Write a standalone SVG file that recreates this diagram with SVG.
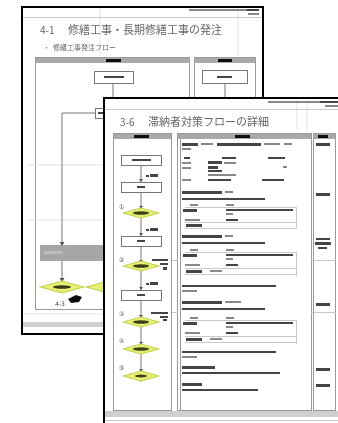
<svg xmlns="http://www.w3.org/2000/svg" width="338" height="423" viewBox="0 0 338 423">
<style>
.page{fill:#fff;stroke:#000;stroke-width:2}
.lane{fill:none;stroke:#999;stroke-width:1}
.hdr{fill:#a9a9a9}
.lbl{fill:#111}
.b{fill:#444}
.m{fill:#888}
.fl{fill:none;stroke:#777;stroke-width:1}
.box{fill:#fff;stroke:#777;stroke-width:1}
.faint{stroke:#e2e2e2;stroke-width:1;fill:none}
.sep{stroke:#c8c8c8;stroke-width:1;fill:none}
.dia{fill:#e6ef78;stroke:#c2d24a;stroke-width:1}
.dc{fill:#3c3c18}
.t{font-family:"Noto Sans CJK JP","Noto Sans",sans-serif;fill:#666}
.n{font-family:"DejaVu Sans",sans-serif;fill:#444;font-size:6px}
.soft{filter:url(#blur)}
</style>
<defs>
<polygon id="dm" points="-18,0 0,-5 18,0 0,5"/>
<filter id="blur" x="-5%" y="-5%" width="110%" height="110%"><feGaussianBlur stdDeviation="0.4"/></filter>
</defs>

<g id="back-page">
<rect class="page" x="22" y="7" width="241" height="327"/>
<g class="soft">
<line class="faint" x1="100" y1="8" x2="100" y2="56"/>
<line class="faint" x1="238" y1="8" x2="238" y2="56"/>
<line class="sep" x1="23" y1="17.5" x2="262" y2="17.5"/>
<rect class="m" x="189" y="9" width="58" height="2"/>
<rect class="b" x="247" y="9" width="12" height="2"/>
<rect class="m" x="248" y="13" width="11" height="2"/>
<text class="t" x="40" y="34" font-size="10">4-1</text>
<text class="t" x="68" y="34" font-size="11">修繕工事・長期修繕工事の発注</text>
<text class="t" x="43" y="50" font-size="7">・</text>
<text class="t" x="53" y="50" font-size="7">修繕工事発注フロー</text>
<rect class="lane" x="35.5" y="57.5" width="154" height="252"/>
<rect class="hdr" x="36" y="58" width="153" height="5"/>
<rect class="lbl" x="106" y="59" width="15" height="3"/>
<rect class="lane" x="194.5" y="57.5" width="61" height="60"/>
<rect class="hdr" x="195" y="58" width="60" height="5"/>
<rect class="lbl" x="218" y="59" width="14" height="3"/>
<line class="faint" x1="27" y1="165" x2="103" y2="165"/>
<line class="faint" x1="27" y1="220" x2="103" y2="220"/>
<rect class="box" x="94.5" y="71.5" width="39" height="12"/>
<rect class="b" x="104" y="76" width="20" height="2"/>
<rect class="box" x="202.5" y="70.5" width="45" height="13"/>
<rect class="b" x="217" y="76" width="15" height="2"/>
<line class="fl" x1="113" y1="84" x2="113" y2="100"/>
<line class="fl" x1="225" y1="84" x2="225" y2="100"/>
<polyline class="fl" points="62,245 62,113 97,113"/>
<rect class="box" x="95.5" y="108.5" width="12" height="10"/>
<rect class="b" x="98" y="112" width="5" height="2"/>
<rect x="40" y="245" width="64" height="16" fill="#a6a6a6"/>
<rect x="44" y="251" width="18" height="3" fill="#bdbdbd"/>
<line class="fl" x1="62" y1="261" x2="62" y2="281"/>
<polygon points="59.5,278 64.5,278 62,282" fill="#555"/>
<polygon points="59.5,242 64.5,242 62,246" fill="#555"/>
<g transform="translate(62,287) scale(1.2,1.2)"><use href="#dm" class="dia"/></g>
<ellipse class="dc" cx="62" cy="287" rx="9" ry="1.8"/>
<g transform="translate(108,287) scale(1.2,1.2)"><use href="#dm" class="dia"/></g>
<text class="n" x="55" y="306" font-size="6">4-3</text>
<polygon points="68,299 76,295 82,297 79,302 71,303" fill="#111"/>
<line class="faint" x1="23" y1="314" x2="103" y2="314"/>
<rect x="23" y="322" width="82" height="5" fill="#d0d0d0"/>
</g>
</g>

<g id="front-page">
<rect class="page" x="104" y="98" width="240" height="330"/>
<g class="soft">
<line class="faint" x1="297" y1="99" x2="297" y2="130"/>
<line class="faint" x1="307" y1="99" x2="307" y2="130"/>
<rect class="m" x="268" y="101" width="52" height="2"/>
<rect class="b" x="320" y="101" width="18" height="2"/>
<rect class="m" x="325" y="105" width="13" height="2"/>
<line class="sep" x1="105" y1="109.5" x2="338" y2="109.5"/>
<text class="t" x="120" y="126" font-size="10">3-6</text>
<text class="t" x="148" y="126" font-size="11">滞納者対策フローの詳細</text>

<rect class="lane" x="113.5" y="133.5" width="58" height="277"/>
<rect class="hdr" x="114" y="134" width="57" height="5"/>
<rect class="lbl" x="134" y="135" width="15" height="3"/>
<rect class="lane" x="177.5" y="133.5" width="134" height="277"/>
<line class="lane" x1="180.5" y1="139" x2="180.5" y2="410"/>
<rect class="hdr" x="178" y="134" width="133" height="5"/>
<rect class="lbl" x="235" y="135" width="15" height="3"/>
<rect class="lane" x="313.5" y="133.5" width="22" height="277"/>
<rect class="hdr" x="314" y="134" width="21" height="5"/>
<rect class="lbl" x="318" y="135" width="10" height="3"/>
<line class="sep" x1="172" y1="260.5" x2="178" y2="260.5"/>
<line class="sep" x1="311" y1="260.5" x2="336" y2="260.5"/>
<line class="sep" x1="172" y1="312.5" x2="178" y2="312.5"/>
<line class="sep" x1="311" y1="312.5" x2="336" y2="312.5"/>
<rect x="105" y="411" width="233" height="6" fill="#cfcfcf"/>
<line class="sep" x1="105" y1="420.5" x2="338" y2="420.5"/>

<line class="fl" x1="141" y1="165" x2="141" y2="382"/>
<rect class="box" x="121.5" y="155.5" width="40" height="10"/>
<rect class="b" x="132" y="159" width="19" height="2"/>
<rect class="box" x="121.5" y="182.5" width="40" height="10"/>
<rect class="b" x="137" y="186" width="8" height="2"/>
<rect class="box" x="121.5" y="236.5" width="40" height="10"/>
<rect class="b" x="137" y="240" width="8" height="2"/>
<rect class="box" x="121.5" y="290.5" width="40" height="10"/>
<rect class="b" x="137" y="294" width="8" height="2"/>
<g fill="#555">
<polygon points="139,179 143,179 141,182"/>
<polygon points="139,206 143,206 141,209"/>
<polygon points="139,233 143,233 141,236"/>
<polygon points="139,260 143,260 141,263"/>
<polygon points="139,287 143,287 141,290"/>
<polygon points="139,315 143,315 141,318"/>
<polygon points="139,342 143,342 141,345"/>
<polygon points="139,369 143,369 141,372"/>
</g>
<rect class="b" x="146" y="175" width="3" height="2"/>
<rect class="b" x="150" y="174" width="8" height="3"/>
<rect class="b" x="146" y="229" width="3" height="2"/>
<rect class="b" x="150" y="228" width="8" height="3"/>
<rect class="b" x="146" y="283" width="3" height="2"/>
<rect class="b" x="150" y="282" width="8" height="3"/>
<text class="n" x="119" y="209">①</text>
<text class="n" x="119" y="262">②</text>
<text class="n" x="119" y="316">③</text>
<text class="n" x="119" y="343">④</text>
<text class="n" x="119" y="370">⑤</text>
<g transform="translate(141,213)"><use href="#dm" class="dia"/></g>
<ellipse class="dc" cx="141" cy="213" rx="8" ry="1.8"/>
<g transform="translate(141,266)"><use href="#dm" class="dia"/></g>
<ellipse class="dc" cx="141" cy="266" rx="8" ry="1.8"/>
<rect class="b" x="152" y="259" width="16" height="2"/>
<rect class="b" x="160" y="263" width="8" height="2"/>
<rect class="b" x="163" y="267" width="4" height="3"/>
<g transform="translate(141,322)"><use href="#dm" class="dia"/></g>
<ellipse class="dc" cx="141" cy="322" rx="8" ry="1.8"/>
<rect class="b" x="151" y="312" width="17" height="2"/>
<rect class="b" x="160" y="316" width="8" height="2"/>
<rect class="b" x="163" y="319" width="4" height="2"/>
<g transform="translate(141,349)"><use href="#dm" class="dia"/></g>
<ellipse class="dc" cx="141" cy="349" rx="8" ry="1.8"/>
<g transform="translate(141,376)"><use href="#dm" class="dia"/></g>
<ellipse class="dc" cx="141" cy="376" rx="6" ry="1.5"/>

<rect class="b" x="182" y="143" width="16" height="3"/>
<rect class="m" x="201" y="143" width="12" height="2"/>
<rect class="b" x="217" y="143" width="44" height="3"/>
<rect class="m" x="264" y="143" width="16" height="2"/>
<rect class="m" x="284" y="143" width="8" height="2"/>
<rect class="m" x="182" y="148" width="9" height="2"/>
<rect class="b" x="184" y="157" width="6" height="2"/>
<rect class="b" x="222" y="157" width="14" height="2"/>
<rect class="b" x="268" y="157" width="17" height="2"/>
<rect class="m" x="182" y="162" width="9" height="2"/>
<rect class="b" x="208" y="161" width="14" height="3"/>
<rect class="m" x="224" y="162" width="12" height="2"/>
<rect class="m" x="182" y="167" width="9" height="2"/>
<rect class="b" x="208" y="166" width="10" height="3"/>
<rect class="m" x="283" y="166" width="4" height="2"/>
<rect class="b" x="208" y="170" width="14" height="2"/>
<rect class="m" x="208" y="174" width="28" height="2"/>
<rect class="m" x="182" y="179" width="9" height="2"/>
<rect class="b" x="208" y="179" width="23" height="2"/>
<rect class="b" x="262" y="179" width="22" height="2"/>

<rect class="b" x="182" y="191" width="40" height="3"/>
<rect class="m" x="225" y="191" width="8" height="2"/>
<rect class="b" x="182" y="198" width="83" height="2"/>
<rect class="m" x="190" y="204" width="8" height="2"/>
<rect class="m" x="226" y="204" width="8" height="2"/>
<line class="sep" x1="185" y1="207.5" x2="296" y2="207.5"/>
<line class="sep" x1="296.5" y1="207" x2="296.5" y2="229"/>
<rect class="b" x="183" y="209" width="14" height="3"/>
<rect class="b" x="226" y="209" width="67" height="2"/>
<rect class="m" x="226" y="213" width="7" height="2"/>
<rect class="m" x="185" y="219" width="15" height="2"/>
<rect class="b" x="226" y="219" width="12" height="2"/>
<line class="sep" x1="185" y1="222.5" x2="296" y2="222.5"/>
<rect class="b" x="186" y="224" width="16" height="3"/>
<line class="sep" x1="185" y1="228.5" x2="296" y2="228.5"/>

<rect class="b" x="182" y="235" width="40" height="3"/>
<rect class="m" x="225" y="235" width="8" height="2"/>
<rect class="b" x="182" y="242" width="83" height="2"/>
<rect class="m" x="190" y="249" width="8" height="2"/>
<rect class="m" x="226" y="249" width="8" height="2"/>
<line class="sep" x1="185" y1="252.5" x2="296" y2="252.5"/>
<line class="sep" x1="296.5" y1="252" x2="296.5" y2="276"/>
<rect class="b" x="183" y="254" width="14" height="3"/>
<rect class="b" x="226" y="254" width="67" height="2"/>
<rect class="m" x="226" y="258" width="7" height="2"/>
<rect class="m" x="185" y="264" width="15" height="2"/>
<rect class="b" x="226" y="264" width="12" height="2"/>
<line class="sep" x1="185" y1="268.5" x2="296" y2="268.5"/>
<rect class="b" x="186" y="270" width="16" height="3"/>
<rect class="m" x="210" y="270" width="12" height="2"/>
<line class="sep" x1="185" y1="274.5" x2="296" y2="274.5"/>
<rect class="b" x="182" y="285" width="94" height="2"/>
<rect class="m" x="182" y="290" width="15" height="2"/>

<rect class="b" x="182" y="301" width="40" height="3"/>
<rect class="m" x="225" y="301" width="16" height="2"/>
<rect class="b" x="182" y="308" width="83" height="2"/>
<rect class="m" x="190" y="317" width="8" height="2"/>
<rect class="m" x="226" y="317" width="8" height="2"/>
<line class="sep" x1="185" y1="320.5" x2="296" y2="320.5"/>
<line class="sep" x1="296.5" y1="320" x2="296.5" y2="344"/>
<rect class="b" x="183" y="322" width="14" height="3"/>
<rect class="b" x="226" y="322" width="67" height="2"/>
<rect class="m" x="226" y="326" width="7" height="2"/>
<rect class="m" x="185" y="332" width="15" height="2"/>
<rect class="b" x="226" y="332" width="12" height="2"/>
<line class="sep" x1="185" y1="336.5" x2="296" y2="336.5"/>
<rect class="b" x="186" y="338" width="16" height="3"/>
<rect class="m" x="210" y="338" width="12" height="2"/>
<line class="sep" x1="185" y1="342.5" x2="296" y2="342.5"/>
<rect class="b" x="182" y="351" width="94" height="2"/>
<rect class="m" x="182" y="356" width="15" height="2"/>

<rect class="b" x="182" y="366" width="33" height="3"/>
<rect class="b" x="182" y="372" width="98" height="2"/>
<rect class="b" x="182" y="383" width="20" height="3"/>
<rect class="b" x="182" y="389" width="76" height="2"/>

<rect class="b" x="316" y="143" width="14" height="3"/>
<rect class="b" x="316" y="193" width="14" height="3"/>
<rect class="b" x="316" y="238" width="14" height="2"/>
<rect class="b" x="315" y="242" width="16" height="3"/>
<rect class="b" x="318" y="247" width="9" height="2"/>
<rect class="b" x="316" y="303" width="14" height="3"/>
<rect class="b" x="316" y="368" width="14" height="3"/>
<rect class="b" x="316" y="384" width="14" height="3"/>
</g>
</g>
</svg>
